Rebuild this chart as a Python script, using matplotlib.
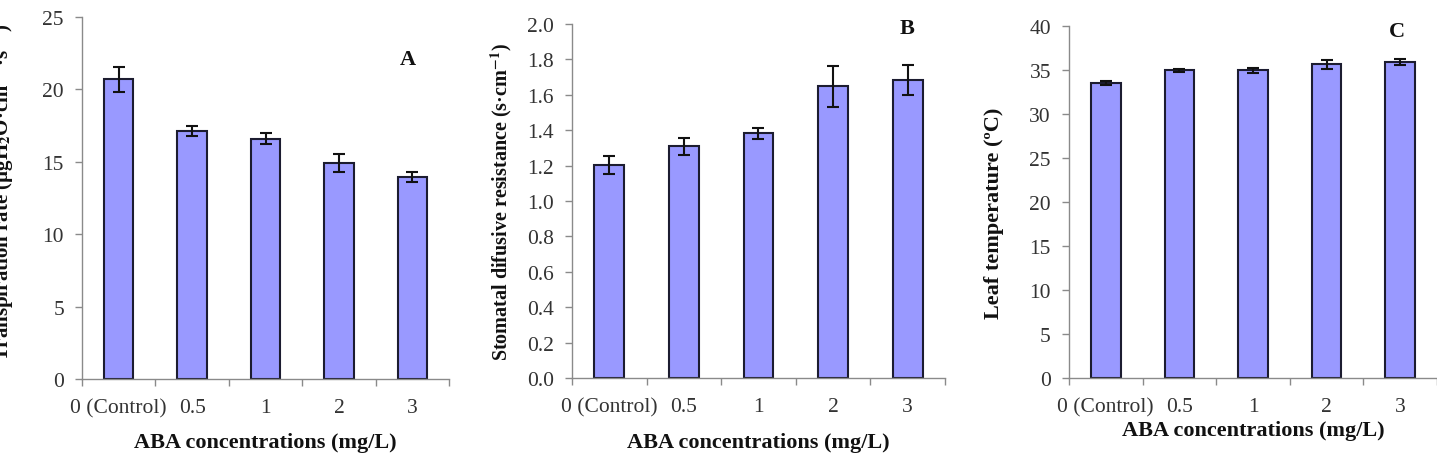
import matplotlib

matplotlib.use("Agg")
import matplotlib.pyplot as plt
from matplotlib.ticker import FixedLocator

plt.rcParams["font.family"] = ["Liberation Serif", "DejaVu Serif"]
plt.rcParams["mathtext.fontset"] = "stix"

categories = ["0 (Control)", "0.5", "1", "2", "3"]

transpiration = [20.7, 17.1, 16.6, 14.9, 13.95]
transpiration_err = [0.85, 0.35, 0.4, 0.64, 0.37]

resistance = [1.204, 1.308, 1.383, 1.648, 1.684]
resistance_err = [0.05, 0.05, 0.032, 0.116, 0.083]

leaf_temp = [33.5, 34.95, 34.95, 35.65, 35.9]
leaf_temp_err = [0.2, 0.15, 0.25, 0.5, 0.35]

xlabel = "ABA concentrations (mg/L)"

panels = [
    {
        "values": transpiration, "err": transpiration_err,
        "ylim": 25, "yticks": [0, 5, 10, 15, 20, 25], "fmt": "{:.0f}",
        "ylabel": r"Transpiration rate (µgH$_{\mathbf{2}}$O·cm$^{\mathbf{-2}}$·s$^{\mathbf{-1}}$)",
        "ylabel_size": 15, "ylabel_xy": (-0.18, 0.52),
        "letter": "A", "letter_pos": (0.888, 0.884),
        "rect": [0.0571, 0.1667, 0.2554, 0.7939], "xlabel_y": -0.174,
    },
    {
        "values": resistance, "err": resistance_err,
        "ylim": 2.0, "yticks": [0, 0.2, 0.4, 0.6, 0.8, 1.0, 1.2, 1.4, 1.6, 1.8, 2.0], "fmt": "{:.1f}",
        "ylabel": r"Stomatal difusive resistance (s·cm$^{\mathbf{-1}}$)",
        "ylabel_size": 14.5, "ylabel_xy": (-0.155, 0.5),
        "letter": "B", "letter_pos": (0.898, 0.99),
        "rect": [0.398, 0.1689, 0.2596, 0.7763], "xlabel_y": -0.18,
    },
    {
        "values": leaf_temp, "err": leaf_temp_err,
        "ylim": 40, "yticks": [0, 5, 10, 15, 20, 25, 30, 35, 40], "fmt": "{:.0f}",
        "ylabel": "Leaf temperature (ºC)",
        "ylabel_size": 16, "ylabel_xy": (-0.176, 0.47),
        "letter": "C", "letter_pos": (0.891, 0.985),
        "rect": [0.7439, 0.1689, 0.2561, 0.7719], "xlabel_y": -0.148,
    },
]

fig = plt.figure(figsize=(14.37, 4.56), dpi=100)
axis_gray = "#8a8a8a"
text_gray = "#333333"

for p in panels:
    ax = fig.add_axes(p["rect"])
    x = range(len(categories))
    ax.bar(x, p["values"], width=0.4, color="#9999ff", edgecolor="#1c1c30", linewidth=1.5, zorder=2)
    ax.errorbar(x, p["values"], yerr=p["err"], fmt="none", ecolor="#111111",
                elinewidth=1.5, capsize=4, capthick=1.5, zorder=3)
    ax.set_xlim(-0.5, len(categories) - 0.5)
    ax.set_ylim(0, p["ylim"])
    ax.set_yticks(p["yticks"])
    ax.set_yticklabels([p["fmt"].format(v) for v in p["yticks"]])
    ax.set_xticks(list(x))
    ax.set_xticklabels(categories)
    ax.xaxis.set_minor_locator(FixedLocator([i - 0.5 for i in range(len(categories) + 1)]))
    ax.tick_params(axis="x", which="major", length=0, pad=14, labelsize=15.5, labelcolor=text_gray)
    ax.tick_params(axis="x", which="minor", length=5, width=1, color=axis_gray, direction="out")
    ax.tick_params(axis="y", length=5, width=1, color=axis_gray, direction="out",
                   labelsize=15.5, labelcolor=text_gray, pad=8)
    for side in ("top", "right"):
        ax.spines[side].set_visible(False)
    for side in ("left", "bottom"):
        ax.spines[side].set_color(axis_gray)
        ax.spines[side].set_linewidth(1)
    ax.set_ylabel(p["ylabel"], fontsize=p["ylabel_size"], fontweight="bold", color="#111111")
    ax.yaxis.set_label_coords(*p["ylabel_xy"])
    ax.set_xlabel(xlabel, fontsize=16, fontweight="bold", color="#111111")
    ax.xaxis.set_label_coords(0.5, p["xlabel_y"])
    ax.xaxis.label.set_va("center")
    ax.text(*p["letter_pos"], p["letter"], transform=ax.transAxes, ha="center", va="center",
            fontsize=16, fontweight="bold", color="#111111")

fig.savefig("out.png", dpi=100)
